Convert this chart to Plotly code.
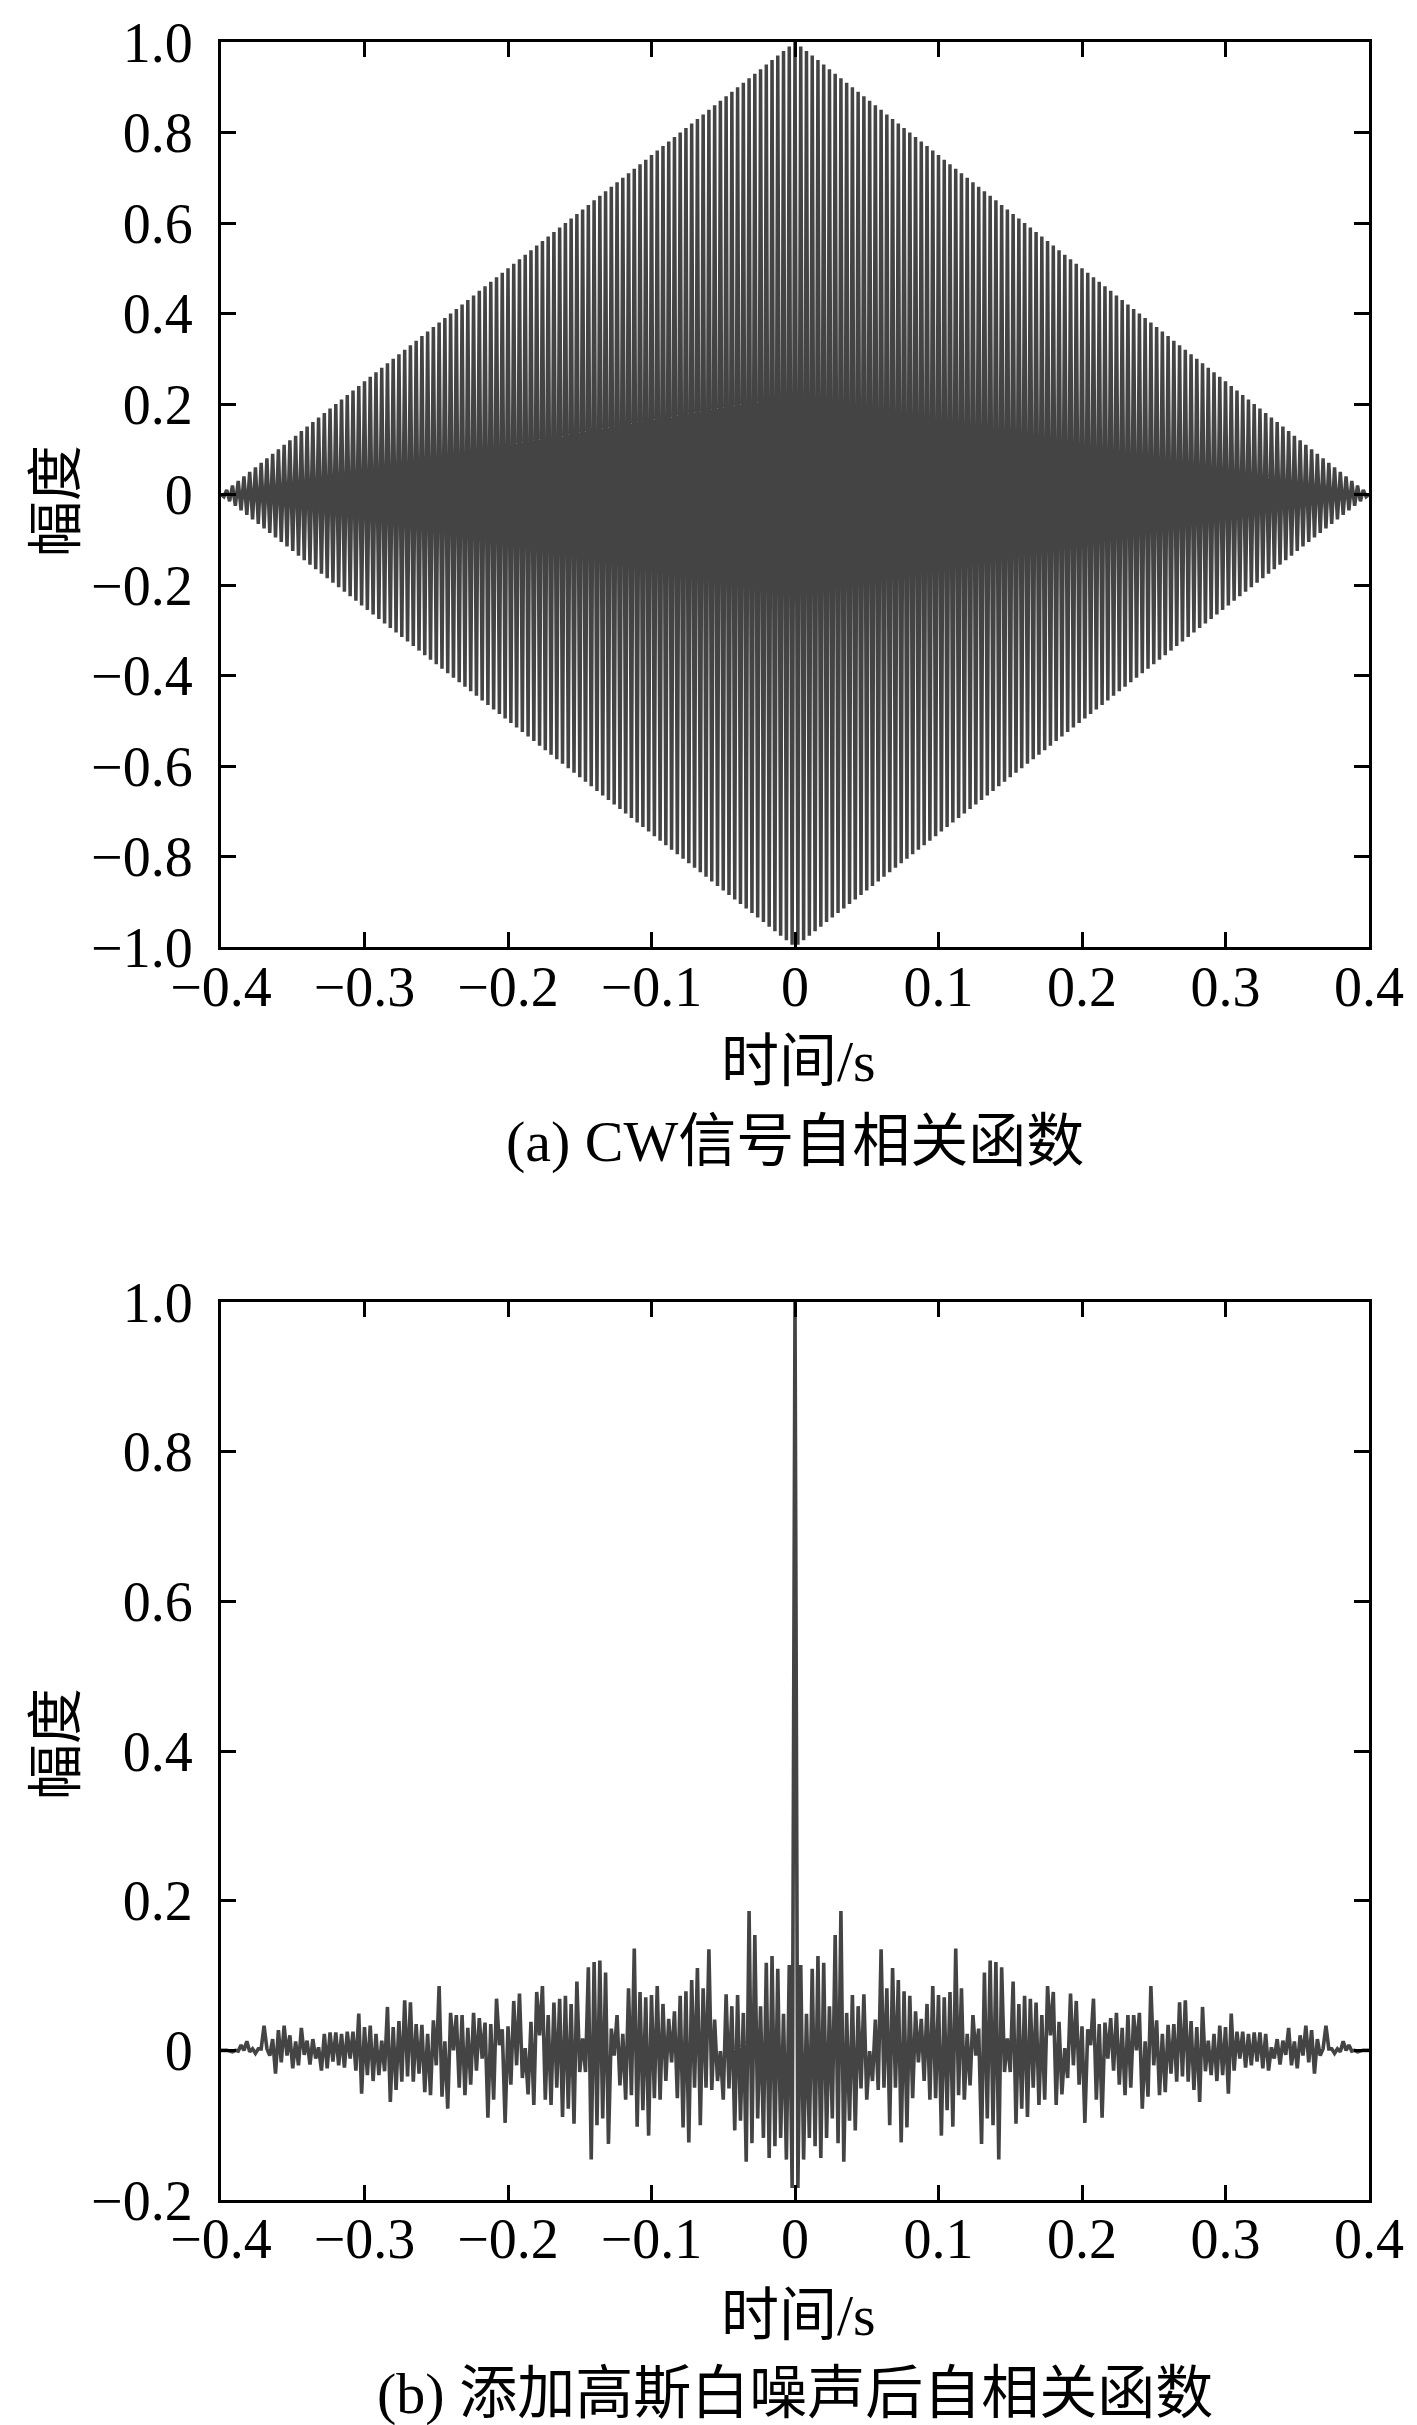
import numpy as np
import plotly.graph_objects as go

# ---------------- data ----------------
# (a) CW autocorrelation: alternating samples every 2 ms under a triangular envelope
cw_step_s = 0.002
cw_env_time = [-0.4, 0.0, 0.4]
cw_env_amp = [0.0, 1.0, 0.0]

# (b) autocorrelation after adding white Gaussian noise (symmetric, right half read, lag step 2 ms)
noise_step_s = 0.002
noise_acf_half = [
    1.000, -0.184, 0.114, -0.146, 0.049, -0.117, 0.109, -0.128, 0.126, -0.144,
    0.117, -0.117, 0.059, -0.091, 0.154, -0.124, 0.186, -0.149, 0.050, -0.094,
    0.074, -0.107, 0.059, -0.051, 0.075, -0.066, -0.001, -0.041, 0.041, -0.053,
    0.135, -0.050, 0.083, -0.100, 0.110, -0.050, 0.094, -0.123, 0.079, -0.103,
    0.073, -0.064, 0.052, -0.016, 0.042, -0.041, 0.062, -0.066, 0.086, -0.064,
    0.074, -0.114, 0.071, -0.080, 0.078, -0.102, 0.136, -0.060, 0.083, -0.066,
    0.022, -0.047, 0.047, -0.007, 0.029, -0.125, 0.104, -0.091, 0.120, -0.100,
    0.118, -0.146, 0.111, -0.029, 0.016, -0.029, 0.092, -0.098, 0.062, -0.078,
    0.073, -0.089, 0.069, -0.050, 0.064, -0.073, 0.047, -0.066, 0.086, 0.020,
    0.078, -0.073, 0.038, -0.059, 0.003, -0.037, 0.076, -0.020, 0.066, -0.046,
    0.032, -0.097, 0.028, 0.007, 0.069, -0.066, 0.035, -0.090, 0.037, -0.011,
    0.043, -0.027, 0.050, -0.046, 0.030, -0.060, 0.047, -0.050, 0.047, 0.000,
    0.050, -0.078, 0.012, -0.062, 0.086, -0.020, 0.040, -0.060, 0.022, -0.056,
    0.034, -0.031, 0.035, -0.042, 0.064, -0.035, 0.067, -0.042, 0.039, -0.053,
    0.031, -0.069, 0.058, -0.028, 0.013, -0.033, 0.022, -0.041, 0.033, -0.033,
    0.031, -0.058, 0.049, -0.027, 0.025, -0.011, 0.025, -0.023, 0.022, -0.020,
    0.024, -0.015, 0.024, -0.024, 0.022, -0.027, 0.004, -0.011, 0.015, -0.019,
    0.013, -0.006, 0.030, -0.020, 0.012, -0.024, 0.020, -0.007, 0.033, -0.016,
    0.027, -0.031, 0.015, -0.007, 0.002, 0.033, 0.002, 0.002, -0.004, 0.002,
    -0.002, 0.012, 0.000, 0.007, -0.001, 0.000, -0.002, -0.001, 0.000, 0.000,
    0.000,
]

x_tickvals = [-0.4, -0.3, -0.2, -0.1, 0, 0.1, 0.2, 0.3, 0.4]
x_ticktext = ["\u22120.4", "\u22120.3", "\u22120.2", "\u22120.1", "0", "0.1", "0.2", "0.3", "0.4"]
ya_tickvals = [-1.0, -0.8, -0.6, -0.4, -0.2, 0, 0.2, 0.4, 0.6, 0.8, 1.0]
ya_ticktext = ["\u22121.0", "\u22120.8", "\u22120.6", "\u22120.4", "\u22120.2", "0", "0.2", "0.4", "0.6", "0.8", "1.0"]
yb_tickvals = [-0.2, 0, 0.2, 0.4, 0.6, 0.8, 1.0]
yb_ticktext = ["\u22120.2", "0", "0.2", "0.4", "0.6", "0.8", "1.0"]

x_title = "时间/s"
y_title = "幅度"
caption_a = "(a) CW信号自相关函数"
caption_b = "(b) 添加高斯白噪声后自相关函数"

# ---------------- build traces ----------------
n_cw = int(round(0.4 / cw_step_s))
k_cw = np.arange(-n_cw, n_cw + 1)
t_cw = k_cw * cw_step_s
a_cw = np.interp(t_cw, cw_env_time, cw_env_amp) * np.where(k_cw % 2 == 0, 1.0, -1.0)

half = np.array(noise_acf_half)
t_half = np.arange(len(half)) * noise_step_s
t_noise = np.concatenate([-t_half[::-1], t_half[1:]])
a_noise = np.concatenate([half[::-1], half[1:]])

W, H = 1417, 2425
LINE = "#444444"
FONT = "Liberation Serif, Times New Roman, Noto Sans CJK SC, serif"
FS = 56

# plot-area pixel box
L, R = 213, 1361
A_T, A_B = 34, 939
B_T, B_B = 1294, 2192
PW, PH = R - L, B_B - A_T

def px_x(p):
    return (p - L) / PW

def px_y(p):
    return (B_B - p) / PH

fig = go.Figure()
fig.add_trace(go.Scatter(x=t_cw, y=a_cw, mode="lines", xaxis="x", yaxis="y",
                         line=dict(color=LINE, width=3.5, simplify=False), showlegend=False))
fig.add_trace(go.Scatter(x=t_noise, y=a_noise, mode="lines", xaxis="x2", yaxis="y2",
                         line=dict(color=LINE, width=3.6, simplify=False), showlegend=False))

axis_common = dict(showline=True, linecolor="black", linewidth=3.2, mirror="ticks",
                   ticks="inside", ticklen=15, tickwidth=3, tickcolor="black",
                   showgrid=False, zeroline=False, automargin=False,
                   tickfont=dict(family=FONT, size=FS, color="black"))

fig.update_layout(
    width=W, height=H,
    margin=dict(l=L, r=W - R, t=A_T, b=H - B_B, pad=0),
    paper_bgcolor="white", plot_bgcolor="white",
    xaxis=dict(domain=[0, 1], range=[-0.4, 0.4], anchor="y",
               tickvals=x_tickvals, ticktext=x_ticktext, ticklabelstandoff=-11, **axis_common),
    yaxis=dict(domain=[px_y(A_B), px_y(A_T)], range=[-1.0, 1.0], anchor="x",
               tickvals=ya_tickvals, ticktext=ya_ticktext, ticklabelstandoff=14, **axis_common),
    xaxis2=dict(domain=[0, 1], range=[-0.4, 0.4], anchor="y2",
                tickvals=x_tickvals, ticktext=x_ticktext, ticklabelstandoff=-12, **axis_common),
    yaxis2=dict(domain=[px_y(B_B), px_y(B_T)], range=[-0.2, 1.0], anchor="x2",
                tickvals=yb_tickvals, ticktext=yb_ticktext, ticklabelstandoff=14, **axis_common),
)

def ann(text, xp, yp, angle=0, size=FS):
    fig.add_annotation(text=text, x=px_x(xp), y=px_y(yp), xref="paper", yref="paper",
                       showarrow=False, textangle=angle, xanchor="center", yanchor="middle",
                       font=dict(family=FONT, size=size, color="black"))

cx = (L + R) / 2
ann(x_title, cx + 3, 1053, size=58)
ann(caption_a, cx, 1133, size=58)
ann(y_title, 48, 493, angle=-90)
ann(x_title, cx + 3, 2307, size=58)
ann(caption_b, cx, 2385, size=58)
ann(y_title, 48, 1736, angle=-90)

fig.write_html("out.html")
